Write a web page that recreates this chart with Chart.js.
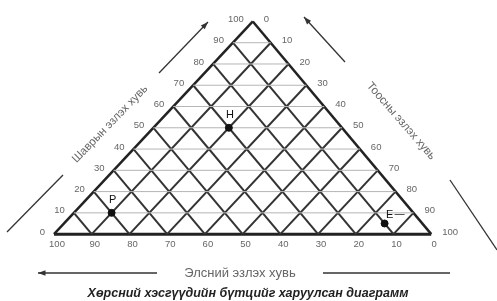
<!DOCTYPE html>
<html>
<head>
<meta charset="utf-8">
<script src="https://cdn.jsdelivr.net/npm/chart.js@4.4.1/dist/chart.umd.min.js"></script>
<style>
  html, body { margin: 0; padding: 0; background: #fff; }
  #wrap { width: 497px; height: 301px; }
</style>
</head>
<body>
<div id="wrap"><canvas id="tri"></canvas></div>
<script>
// ternary grid levels (percent)
const gridLevels = [10, 20, 30, 40, 50, 60, 70, 80, 90];
const clayTicks = [0, 10, 20, 30, 40, 50, 60, 70, 80, 90, 100];
const siltTicks = [0, 10, 20, 30, 40, 50, 60, 70, 80, 90, 100];
const sandTicks = [100, 90, 80, 70, 60, 50, 40, 30, 20, 10, 0];

// soil samples
const sampleNames = ['Н', 'Р', 'Е'];
const sampleClay = [50, 10, 5];
const sampleSilt = [20, 10, 85];

// texts
const clayTitle = 'Шаврын эзлэх хувь';
const siltTitle = 'Тоосны эзлэх хувь';
const sandTitle = 'Элсний эзлэх хувь';
const caption = 'Хөрсний хэсгүүдийн бүтцийг харуулсан диаграмм';

const APEX = 0.527; // apex sits a little right of the base middle

function tern(clay, silt) {
    return { x: silt + APEX * clay, y: clay };
}

const datasets = [];
function addLine(a, b, color, width) {
    datasets.push({
        data: [a, b],
        showLine: true,
        borderColor: color,
        borderWidth: width,
        pointRadius: 0,
        fill: false
    });
}

// clay: horizontal thin lines
gridLevels.forEach(c => addLine(tern(c, 0), tern(c, 100 - c), '#b5b5b5', 1));
// silt: parallel to left edge
gridLevels.forEach(s => addLine(tern(0, s), tern(100 - s, s), '#333', 2));
// sand: parallel to right edge
gridLevels.forEach(s => addLine(tern(0, 100 - s), tern(100 - s, 0), '#333', 2));
// outline
addLine(tern(0, 0), tern(100, 0), '#222', 2.5);
addLine(tern(100, 0), tern(0, 100), '#222', 2.5);
addLine(tern(0, 0), tern(0, 100), '#222', 3);

datasets.push({
    data: sampleClay.map((c, i) => tern(c, sampleSilt[i])),
    showLine: false,
    order: -1,
    pointRadius: 3.5,
    pointBackgroundColor: '#111',
    pointBorderColor: '#111'
});

function arrow(ctx, x1, y1, x2, y2, head) {
    ctx.beginPath();
    ctx.moveTo(x1, y1);
    ctx.lineTo(x2, y2);
    ctx.stroke();
    if (!head) return;
    const a = Math.atan2(y2 - y1, x2 - x1);
    ctx.beginPath();
    ctx.moveTo(x2, y2);
    ctx.lineTo(x2 - 8 * Math.cos(a - 0.35), y2 - 8 * Math.sin(a - 0.35));
    ctx.lineTo(x2 - 8 * Math.cos(a + 0.35), y2 - 8 * Math.sin(a + 0.35));
    ctx.closePath();
    ctx.fill();
}

const labelsPlugin = {
    id: 'ternLabels',
    afterDatasetsDraw(chart) {
        const ctx = chart.ctx;
        const xs = chart.scales.x, ys = chart.scales.y;
        const px = p => [xs.getPixelForValue(p.x), ys.getPixelForValue(p.y)];
        ctx.save();
        ctx.fillStyle = '#666';
        ctx.font = '9.5px "Liberation Sans", Arial, sans-serif';
        ctx.textBaseline = 'middle';

        // clay ticks on the left edge
        ctx.textAlign = 'right';
        clayTicks.forEach(c => {
            const [x, y] = px(tern(c, 0));
            ctx.fillText(String(c), x - 9, y - 2);
        });
        // silt ticks on the right edge
        ctx.textAlign = 'left';
        siltTicks.forEach(s => {
            const [x, y] = px(tern(100 - s, s));
            ctx.fillText(String(s), x + 11, y - 2);
        });
        // sand ticks under the base
        ctx.textAlign = 'center';
        sandTicks.forEach(s => {
            const [x, y] = px(tern(0, 100 - s));
            ctx.fillText(String(s), x + 3, y + 10);
        });

        // sample names
        ctx.fillStyle = '#111';
        ctx.font = '11px "Liberation Sans", Arial, sans-serif';
        sampleNames.forEach((n, i) => {
            const [x, y] = px(tern(sampleClay[i], sampleSilt[i]));
            if (n === 'Е') {
                ctx.fillText(n, x + 5, y - 9);
                ctx.strokeStyle = '#555';
                ctx.lineWidth = 1;
                ctx.beginPath();
                ctx.moveTo(x + 10, y - 9);
                ctx.lineTo(x + 20, y - 9);
                ctx.stroke();
            } else {
                ctx.fillText(n, x + 1, y - 13);
            }
        });

        // arrows and axis titles
        ctx.strokeStyle = '#333';
        ctx.fillStyle = '#333';
        ctx.lineWidth = 1.3;
        arrow(ctx, 7, 232, 63, 175, false);
        arrow(ctx, 159, 73, 208, 22, true);
        arrow(ctx, 345, 62, 304, 17, true);
        arrow(ctx, 450, 180, 497, 250, false);
        arrow(ctx, 157, 273, 38, 273, true);
        arrow(ctx, 323, 273, 450, 273, false);

        ctx.fillStyle = '#666';
        ctx.font = '11.5px "Liberation Sans", Arial, sans-serif';
        ctx.textAlign = 'center';
        ctx.save();
        ctx.translate(110, 124);
        ctx.rotate(-46 * Math.PI / 180);
        ctx.fillText(clayTitle, 0, 0);
        ctx.restore();
        ctx.save();
        ctx.translate(401, 121);
        ctx.rotate(49 * Math.PI / 180);
        ctx.fillText(siltTitle, 0, 0);
        ctx.restore();
        ctx.font = '13px "Liberation Sans", Arial, sans-serif';
        ctx.fillText(sandTitle, 240, 273);

        ctx.fillStyle = '#222';
        ctx.font = 'italic bold 12.5px "Liberation Sans", Arial, sans-serif';
        ctx.fillText(caption, 248, 294);
        ctx.restore();
    }
};

new Chart(document.getElementById('tri'), {
    type: 'scatter',
    data: { datasets: datasets },
    options: {
        responsive: true,
        maintainAspectRatio: false,
        animation: false,
        layout: { padding: 0 },
        plugins: { legend: { display: false }, tooltip: { enabled: false } },
        scales: {
            x: { type: 'linear', display: false, min: -50 / 3.85, max: 447 / 3.85 },
            y: { type: 'linear', display: false, min: -64 / 2.2, max: 237 / 2.2 }
        }
    },
    plugins: [labelsPlugin]
});
</script>
</body>
</html>
